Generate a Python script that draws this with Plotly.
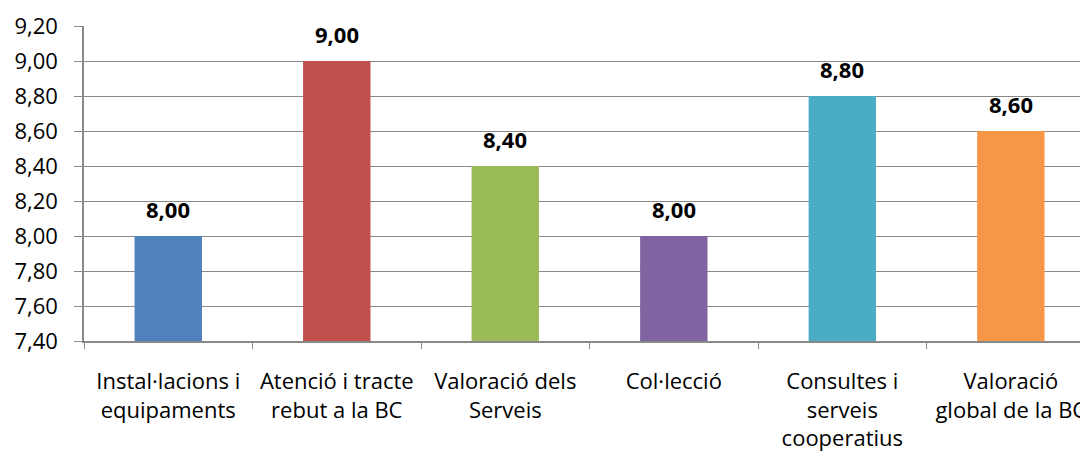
"""Valoració per àmbits - gràfic de barres."""

import plotly.graph_objects as go

categories = [
    "Instal·lacions i<br>equipaments",
    "Atenció i tracte<br>rebut a la BC",
    "Valoració dels<br>Serveis",
    "Col·lecció",
    "Consultes i<br>serveis<br>cooperatius",
    "Valoració<br>global de la BC",
]
values = [8.00, 9.00, 8.40, 8.00, 8.80, 8.60]
bar_colors = ["#4F81BD", "#C0504D", "#9BBB59", "#8064A2", "#4BACC6", "#F79646"]
y_ticks = [7.4, 7.6, 7.8, 8.0, 8.2, 8.4, 8.6, 8.8, 9.0, 9.2]

FONT = "'Open Sans', Lato, sans-serif"
GRID = "#898989"

fig = go.Figure(
    go.Bar(
        x=categories,
        y=values,
        marker=dict(color=bar_colors, line=dict(width=0)),
        hoverinfo="x+y",
    )
)

# etiquetes de valor una mica per sobre de cada barra
for cat, val in zip(categories, values):
    fig.add_annotation(
        x=cat, y=val,
        text=f"<b>{val:.2f}</b>".replace(".", ","),
        showarrow=False,
        yanchor="bottom",
        yshift=10,
        font=dict(family=FONT, size=22, color="black"),
    )

# la pàgina té 8 px de marge al body: es compensa amb la mida i els marges
fig.update_layout(
    width=1080,
    height=451,
    margin=dict(l=76, r=0, t=18, b=118, autoexpand=False),
    plot_bgcolor="white",
    paper_bgcolor="white",
    separators=",.",
    bargap=0.6,
    showlegend=False,
    font=dict(family=FONT, size=21, color="black"),
)

fig.update_xaxes(
    range=[-0.5, 5.458],
    showline=True,
    linecolor=GRID,
    linewidth=1.5,
    ticks="outside",
    tickson="boundaries",
    tickcolor=GRID,
    ticklen=6,
    ticklabelstandoff=20,
    showgrid=False,
    automargin=False,
    tickfont=dict(family=FONT, size=22),
)

fig.update_yaxes(
    range=[7.4, 9.2],
    tickvals=y_ticks,
    tickformat=".2f",
    showgrid=True,
    gridcolor=GRID,
    gridwidth=1,
    showline=True,
    linecolor=GRID,
    linewidth=1.5,
    ticks="outside",
    tickcolor=GRID,
    ticklen=8,
    ticklabelstandoff=12,
    zeroline=False,
    automargin=False,
    tickfont=dict(family=FONT, size=22),
)

fig.write_html("out.html")
